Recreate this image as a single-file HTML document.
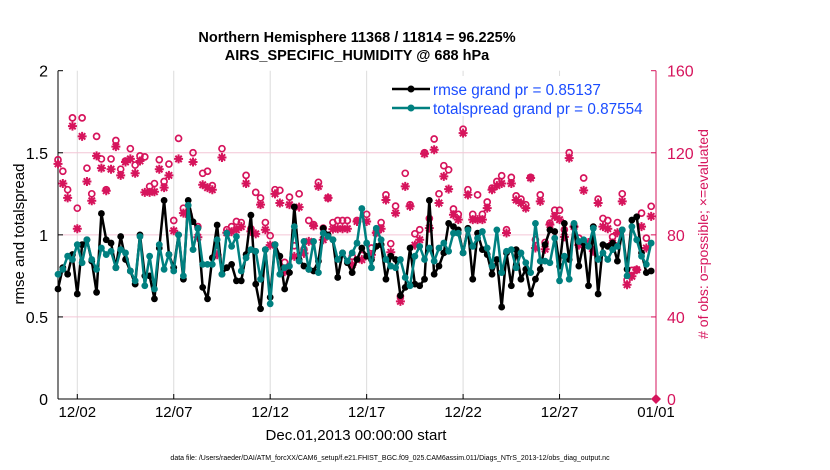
<!DOCTYPE html>
<html><head><meta charset="utf-8"><style>
body{margin:0;background:#fff;}
svg{display:block;font-family:"Liberation Sans",sans-serif;}
</style></head><body>
<svg id="chart" width="830" height="470" viewBox="0 0 830 470" xmlns="http://www.w3.org/2000/svg">
<text x="357" y="42" text-anchor="middle" font-size="14.5" font-weight="bold">Northern Hemisphere 11368 / 11814 = 96.225%</text>
<text x="357" y="60" text-anchor="middle" font-size="14.5" font-weight="bold">AIRS_SPECIFIC_HUMIDITY @ 688 hPa</text>
<g id="grid"></g>
<g id="axes"></g>
<g id="marks"></g>
<text transform="translate(24,234) rotate(-90)" text-anchor="middle" font-size="15">rmse and totalspread</text>
<text transform="translate(708,234) rotate(-90)" text-anchor="middle" font-size="14" fill="#d6145c">#  of obs: o=possible; ×=evaluated</text>
<text x="356" y="440" text-anchor="middle" font-size="15">Dec.01,2013 00:00:00 start</text>
<text x="390" y="460" text-anchor="middle" font-size="7">data file: /Users/raeder/DAI/ATM_forcXX/CAM6_setup/f.e21.FHIST_BGC.f09_025.CAM6assim.011/Diags_NTrS_2013-12/obs_diag_output.nc</text>
<g>
<rect x="388" y="76" width="258" height="40" fill="#fff"/>
<line x1="392" y1="89" x2="430" y2="89" stroke="#000" stroke-width="2.5"/><circle cx="411" cy="89" r="3.5" fill="#000"/>
<text x="433" y="95" font-size="15.3" fill="#1a4cff">rmse grand pr = 0.85137</text>
<line x1="392" y1="108" x2="430" y2="108" stroke="#008080" stroke-width="2.5"/><circle cx="411" cy="108" r="3.5" fill="#008080"/>
<text x="433" y="114" font-size="15.3" fill="#1a4cff">totalspread grand pr = 0.87554</text>
</g>
</svg>
<script>
const xTickLabels = ["12/02","12/07","12/12","12/17","12/22","12/27","01/01"];
const xTickDays = [1,6,11,16,21,26,31];
const yLeftTicks = [0,0.5,1,1.5,2];
const yLeftTickLabels = ["0","0.5","1","1.5","2"];
const yRightTicks = [0,40,80,120,160];
const rmse = [0.67,0.80,0.76,0.88,0.64,0.94,0.97,0.84,0.65,1.13,0.97,0.95,0.80,0.99,0.85,0.78,0.70,1.00,0.75,0.75,0.61,0.92,1.21,0.88,0.80,1.00,0.73,1.21,1.08,1.04,0.68,0.61,0.86,1.06,0.76,0.80,0.82,0.72,0.72,0.88,1.12,0.70,0.55,
0.91,0.62,0.94,0.87,0.67,0.77,1.17,0.85,0.81,0.79,0.78,0.84,1.04,1.00,0.97,0.74,0.89,0.83,0.77,0.85,0.92,0.87,0.85,0.93,0.94,0.73,0.87,0.85,0.63,0.68,0.92,0.70,0.69,0.73,1.21,0.76,0.81,0.89,1.07,1.05,1.03,
0.89,1.04,0.73,1.01,0.91,0.88,0.76,0.85,0.56,0.89,0.69,0.91,0.73,0.79,0.64,0.73,0.79,0.94,1.03,1.02,0.81,1.07,0.85,1.05,0.81,0.95,0.69,1.05,0.64,0.94,0.93,0.95,0.84,1.03,0.79,1.09,1.11,0.89,0.77,0.78];
const spread = [0.76,0.79,0.87,0.85,0.94,0.83,0.97,0.85,0.79,0.92,0.88,0.90,0.80,0.91,0.89,0.78,0.72,0.99,0.69,0.87,0.67,0.94,0.79,0.88,0.78,1.00,0.75,1.18,0.91,1.04,0.82,0.82,0.82,0.97,0.76,1.01,0.93,0.99,0.78,0.86,0.91,0.90,0.73,
0.91,0.58,0.94,0.76,0.80,0.81,1.05,0.84,0.96,0.79,0.96,0.77,1.01,0.99,0.97,0.85,0.89,0.84,0.89,0.95,1.16,0.95,0.80,1.04,0.97,0.85,0.81,0.80,0.85,0.74,0.69,0.87,0.93,0.85,0.92,0.84,0.92,0.95,0.90,1.01,1.01,
0.89,1.03,0.93,0.98,1.02,0.92,0.81,1.03,0.77,0.90,0.91,0.80,0.89,0.83,0.77,1.07,0.84,0.84,0.83,0.98,0.72,0.87,0.73,1.07,0.96,0.97,0.93,1.04,0.85,0.89,0.85,0.91,0.93,1.03,0.75,1.05,0.97,0.87,0.82,0.95];
const possible = [116.6,111,102,137,93,137,112.5,100,128,117,102,117,126,112,116,122,114,118.5,118,103.6,105,116.6,106,114.5,87,127,93,91,120,84,110,111,104,72,122,82.5,84,86.5,86,109,83,100.7,98,
86,79.6,102,101.7,66.6,98.4,74.7,100,73,87,85,105.6,83.3,98,86,87,87,87,69.5,87,70,90,73.6,81,86,99.5,75.7,94,50,110,94.7,80.5,82.5,120,88,126.7,100,113.7,111.7,92.6,90,
131.5,102,90,99.5,90,96,102.8,106,108.8,82.5,108,99,97.4,94.7,108,77.6,99.5,76.3,85.7,92,92,82.5,120,84,78.4,107.7,76,72.8,97.4,88,87,79,86,100,58,62.7,63,90.6,78.4,93.9];
const evaluated = [114.6,105,98,133,83,128,106,96.6,118.5,112.5,101.5,112,123,109,115.5,117,110,116,100.7,100.7,101,112,103,109,82,117,90.6,90,115.5,78.8,104.4,103,102,70.3,117.7,81,81.5,82.5,84,105,81.7,80.5,94.7,
82.5,75,100,95.5,62,94.7,69.5,93.5,71,76.8,84.4,103.6,77.6,98,82.8,83,83,83,65.4,86.5,67.9,86.5,70.3,81,83,97,71.5,90.6,47.6,103.6,93.9,75,77.6,119.5,83.3,121.5,95.5,108.5,102.3,89.8,87.4,
129.6,99.5,87.4,87.4,87.4,93,102,104,105,80.9,105,97,95.5,93,107.7,73.6,96.3,73,85,89,87.4,79,117.4,84,75,101.7,76.3,72,95.5,84,83,76,81,96.3,55.7,59.8,63,84,73.6,89];

const NS="http://www.w3.org/2000/svg";
const X0=58,X1=656,Y0=399,Y1=70.7;
const xs=d=>X0+(d/31)*(X1-X0);
const yL=v=>Y0-(v/2)*(Y0-Y1);
const yR=v=>Y0-(v/160)*(Y0-Y1);
const dayOf=i=>i*0.25;
function mk(tag,attrs,parent){const e=document.createElementNS(NS,tag);for(const k in attrs)e.setAttribute(k,attrs[k]);parent.appendChild(e);return e;}
const grid=document.getElementById('grid'),axes=document.getElementById('axes'),marks=document.getElementById('marks');
xTickDays.forEach((d,i)=>{
  const l=mk('line',{x1:xs(d),x2:xs(d),y1:Y1,y2:Y0,stroke:'#dcdcdc','stroke-width':1},grid);
  
  
  const t=mk('text',{x:xs(d),y:Y0+18,'text-anchor':'middle','font-size':15},axes);
  t.textContent=xTickLabels[i];
  
  
  mk('line',{x1:xs(d),x2:xs(d),y1:Y0,y2:Y0-5,stroke:'#000'},axes);
});
yLeftTicks.forEach((v,i)=>{
  if(v>0&&v<2){const g=mk('line',{x1:X0,x2:X1,y1:yL(v),y2:yL(v),stroke:'#f4c6d6','stroke-width':1},grid);
  
  }
  const t=mk('text',{x:X0-10,y:yL(v)+6,'text-anchor':'end','font-size':16},axes);
  t.textContent=yLeftTickLabels[i];
  
  
  mk('line',{x1:X0,x2:X0+5,y1:yL(v),y2:yL(v),stroke:'#000'},axes);
});
yRightTicks.forEach(v=>{
  const t=mk('text',{x:X1+11,y:yR(v)+6,'font-size':16,fill:'#d6145c'},axes);
  t.textContent=String(v);
  
  
  mk('line',{x1:X1,x2:X1-5,y1:yR(v),y2:yR(v),stroke:'#d6145c'},axes);
});
mk('line',{x1:X0,x2:X0,y1:Y1,y2:Y0,stroke:'#000','stroke-width':1},axes);
mk('line',{x1:X0,x2:X1,y1:Y0,y2:Y0,stroke:'#000','stroke-width':1},axes);
mk('line',{x1:X1,x2:X1,y1:Y1,y2:Y0,stroke:'#d6145c','stroke-width':1},axes);
const dm=mk('path',{d:`M${X1} ${Y0-5}L${X1+5} ${Y0}L${X1} ${Y0+5}L${X1-5} ${Y0}Z`,fill:'#d6145c'},axes);


possible.forEach((v,i)=>{
  const c=mk('circle',{cx:xs(dayOf(i)),cy:yR(v),r:3,fill:'none',stroke:'#d6145c','stroke-width':1.7},marks);
  
  
});
evaluated.forEach((v,i)=>{
  const x=xs(dayOf(i)),y=yR(v),r=4.5,q=3.2;
  const p=mk('path',{d:`M${x-r} ${y}H${x+r}M${x} ${y-r}V${y+r}M${x-q} ${y-q}L${x+q} ${y+q}M${x-q} ${y+q}L${x+q} ${y-q}`,stroke:'#d6145c','stroke-width':2},marks);
  
  
});
function series(arr,color,name){
  const pl=mk('polyline',{points:arr.map((v,i)=>xs(dayOf(i))+','+yL(v)).join(' '),fill:'none',stroke:color,'stroke-width':2.5,'stroke-linejoin':'round'},marks);
  
  
  arr.forEach((v,i)=>{
    const c=mk('circle',{cx:xs(dayOf(i)),cy:yL(v),r:3.4,fill:color},marks);
    
    
  });
}
series(rmse,'#000','rmse');
series(spread,'#008080','totalspread');
</script>
</body></html>
